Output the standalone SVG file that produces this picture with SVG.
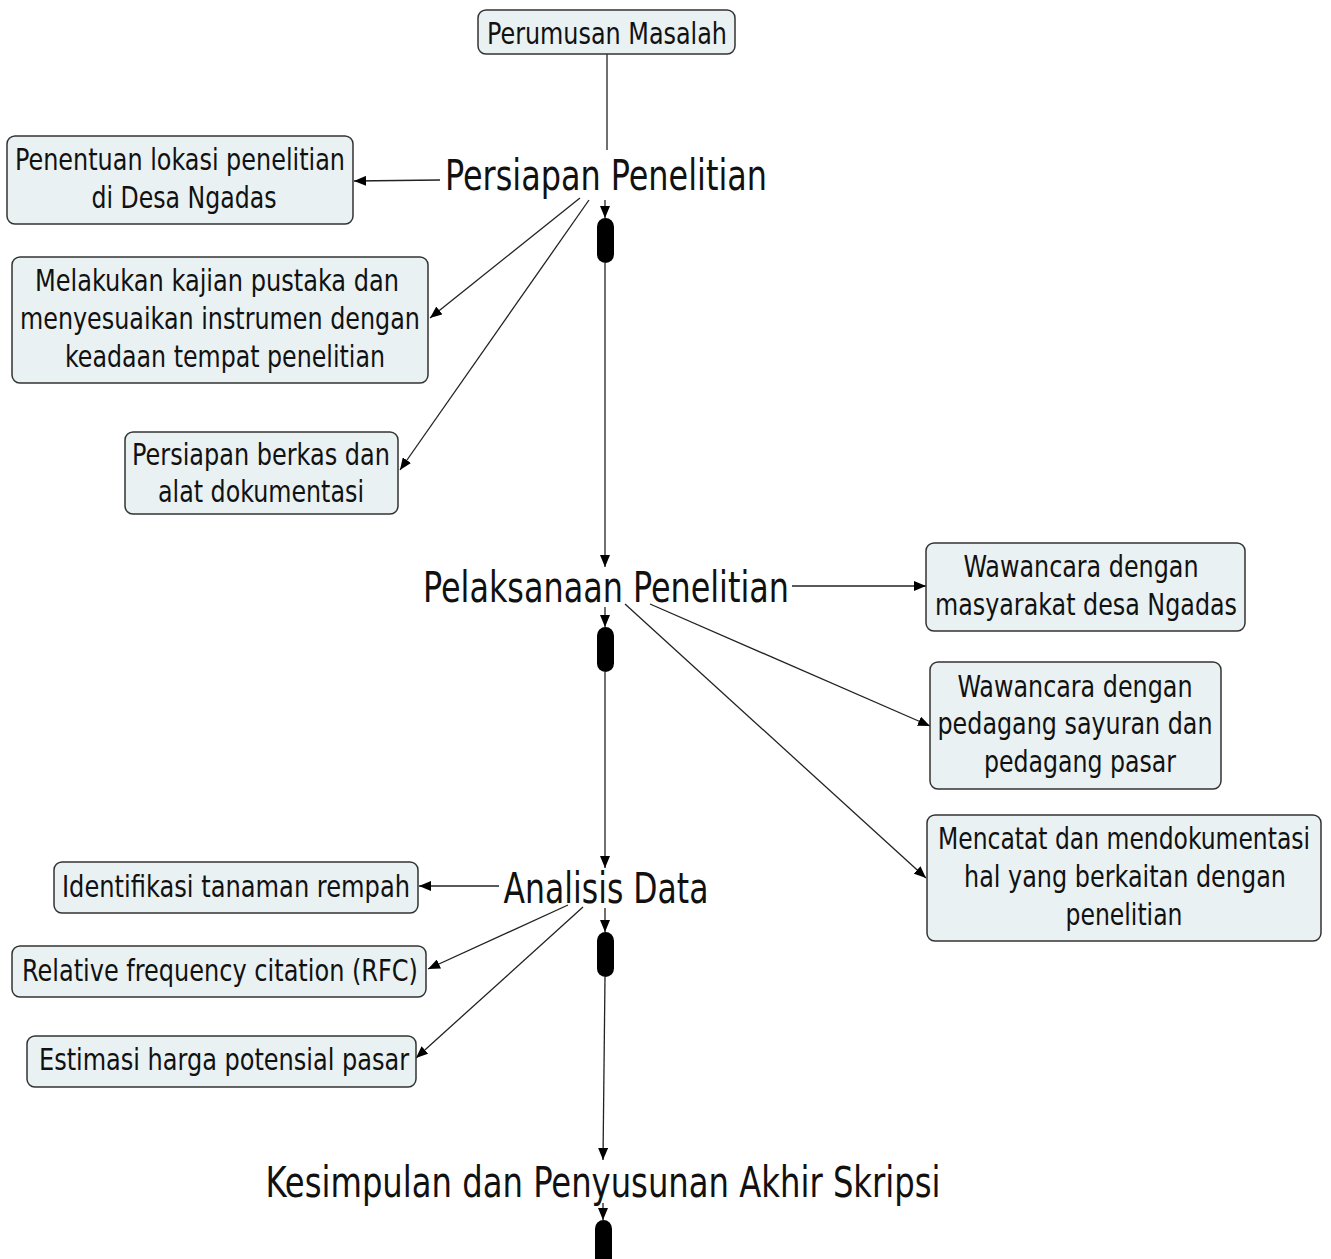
<svg xmlns="http://www.w3.org/2000/svg" width="1331" height="1259" viewBox="0 0 1331 1259">
<style>
.box{fill:#e9f1f3;stroke:#333;stroke-width:1.5}
.t{font-family:"DejaVu Sans Condensed","DejaVu Sans",sans-serif;font-size:30px;fill:#111;text-anchor:middle}
.h{font-family:"DejaVu Sans Condensed","DejaVu Sans",sans-serif;font-size:43px;fill:#111;text-anchor:middle}
.c{stroke:#222;stroke-width:1.3;fill:none}
.a{marker-end:url(#ah)}
.cap{fill:#000}
</style>
<defs>
<marker id="ah" markerUnits="userSpaceOnUse" markerWidth="12" markerHeight="10" refX="12" refY="5" orient="auto">
<path d="M0,0 L12,5 L0,10 z" fill="#000"/>
</marker>
</defs>
<rect width="1331" height="1259" fill="#fff"/>
<g id="connectors">
<line class="c" x1="607" y1="54" x2="607" y2="150"/>
<line class="c a" x1="440" y1="180" x2="354" y2="181"/>
<line class="c a" x1="580" y1="198" x2="430" y2="318"/>
<line class="c a" x1="589" y1="200" x2="400" y2="470"/>
<line class="c a" x1="605" y1="200" x2="605" y2="218"/>
<line class="c a" x1="605" y1="263" x2="605" y2="567"/>
<line class="c a" x1="792" y1="586" x2="926" y2="586"/>
<line class="c a" x1="650" y1="604" x2="930" y2="726"/>
<line class="c a" x1="625" y1="604" x2="926" y2="878"/>
<line class="c a" x1="605" y1="607" x2="605" y2="627"/>
<line class="c a" x1="605" y1="672" x2="605" y2="868"/>
<line class="c a" x1="499" y1="886" x2="419" y2="886"/>
<line class="c a" x1="568" y1="905" x2="428" y2="969"/>
<line class="c a" x1="583" y1="907" x2="416" y2="1058"/>
<line class="c a" x1="605" y1="908" x2="605" y2="932"/>
<line class="c a" x1="605" y1="977" x2="603" y2="1160"/>
<line class="c a" x1="603" y1="1203" x2="603" y2="1220"/>
<rect class="cap" x="597" y="218" width="17" height="45" rx="8.5"/>
<rect class="cap" x="597" y="627" width="17" height="45" rx="8.5"/>
<rect class="cap" x="597" y="932" width="17" height="45" rx="8.5"/>
<rect class="cap" x="595" y="1220" width="17" height="50" rx="8.5"/>
</g>
<g id="n-perumusan">
<rect class="box" x="478" y="10" width="257" height="44" rx="8"/>
<text class="t" x="607" y="44" textLength="240" lengthAdjust="spacingAndGlyphs">Perumusan Masalah</text>
</g>
<g id="n-persiapan">
<text class="h" x="606" y="190" textLength="322" lengthAdjust="spacingAndGlyphs">Persiapan Penelitian</text>
</g>
<g id="n-penentuan">
<rect class="box" x="7" y="136" width="346" height="88" rx="8"/>
<text class="t" x="180" y="170" textLength="330" lengthAdjust="spacingAndGlyphs">Penentuan lokasi penelitian</text>
<text class="t" x="184" y="208" textLength="185" lengthAdjust="spacingAndGlyphs">di Desa Ngadas</text>
</g>
<g id="n-kajian">
<rect class="box" x="12" y="257" width="416" height="126" rx="8"/>
<text class="t" x="217" y="291" textLength="364" lengthAdjust="spacingAndGlyphs">Melakukan kajian pustaka dan</text>
<text class="t" x="220" y="329" textLength="400" lengthAdjust="spacingAndGlyphs">menyesuaikan instrumen dengan</text>
<text class="t" x="225" y="367" textLength="320" lengthAdjust="spacingAndGlyphs">keadaan tempat penelitian</text>
</g>
<g id="n-berkas">
<rect class="box" x="125" y="432" width="273" height="82" rx="8"/>
<text class="t" x="261" y="465" textLength="258" lengthAdjust="spacingAndGlyphs">Persiapan berkas dan</text>
<text class="t" x="261" y="502" textLength="206" lengthAdjust="spacingAndGlyphs">alat dokumentasi</text>
</g>
<g id="n-pelaksanaan">
<text class="h" x="606" y="602" textLength="366" lengthAdjust="spacingAndGlyphs">Pelaksanaan Penelitian</text>
</g>
<g id="n-wawancara1">
<rect class="box" x="926" y="543" width="319" height="88" rx="8"/>
<text class="t" x="1081" y="577" textLength="235" lengthAdjust="spacingAndGlyphs">Wawancara dengan</text>
<text class="t" x="1086" y="615" textLength="302" lengthAdjust="spacingAndGlyphs">masyarakat desa Ngadas</text>
</g>
<g id="n-wawancara2">
<rect class="box" x="930" y="662" width="291" height="127" rx="8"/>
<text class="t" x="1075" y="697" textLength="235" lengthAdjust="spacingAndGlyphs">Wawancara dengan</text>
<text class="t" x="1075" y="734" textLength="275" lengthAdjust="spacingAndGlyphs">pedagang sayuran dan</text>
<text class="t" x="1080" y="772" textLength="192" lengthAdjust="spacingAndGlyphs">pedagang pasar</text>
</g>
<g id="n-mencatat">
<rect class="box" x="927" y="815" width="394" height="126" rx="8"/>
<text class="t" x="1124" y="849" textLength="372" lengthAdjust="spacingAndGlyphs">Mencatat dan mendokumentasi</text>
<text class="t" x="1125" y="887" textLength="322" lengthAdjust="spacingAndGlyphs">hal yang berkaitan dengan</text>
<text class="t" x="1124" y="925" textLength="117" lengthAdjust="spacingAndGlyphs">penelitian</text>
</g>
<g id="n-analisis">
<text class="h" x="606" y="903" textLength="205" lengthAdjust="spacingAndGlyphs">Analisis Data</text>
</g>
<g id="n-identifikasi">
<rect class="box" x="54" y="862" width="364" height="51" rx="8"/>
<text class="t" x="236" y="897" textLength="348" lengthAdjust="spacingAndGlyphs">Identifikasi tanaman rempah</text>
</g>
<g id="n-rfc">
<rect class="box" x="12" y="946" width="414" height="51" rx="8"/>
<text class="t" x="220" y="981" textLength="396" lengthAdjust="spacingAndGlyphs">Relative frequency citation (RFC)</text>
</g>
<g id="n-estimasi">
<rect class="box" x="27" y="1036" width="389" height="51" rx="8"/>
<text class="t" x="224" y="1070" textLength="370" lengthAdjust="spacingAndGlyphs">Estimasi harga potensial pasar</text>
</g>
<g id="n-kesimpulan">
<text class="h" x="603" y="1197" textLength="675" lengthAdjust="spacingAndGlyphs">Kesimpulan dan Penyusunan Akhir Skripsi</text>
</g>
</svg>
